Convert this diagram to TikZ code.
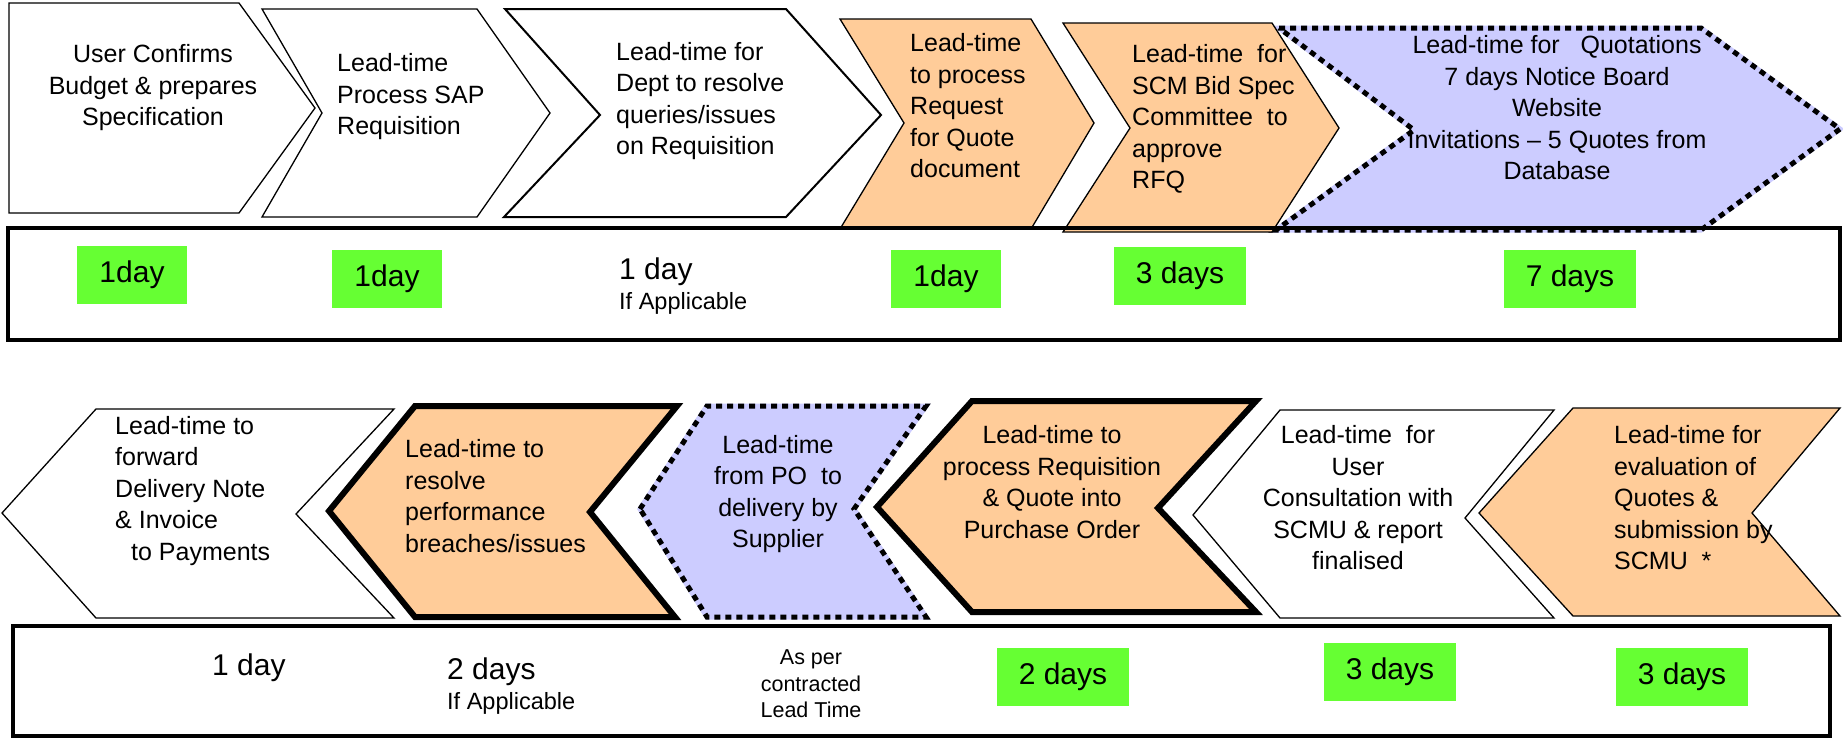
\documentclass[tikz,border=0pt]{standalone}
\usepackage{fontspec}
\setmainfont{Liberation Sans}
\usepackage{tikz}

\definecolor{peach}{HTML}{FFCC99}
\definecolor{lavender}{HTML}{CCCCFF}
\definecolor{daygreen}{HTML}{66FF33}

\begin{document}
\begin{tikzpicture}[
    x=1pt, y=-1pt,
    line join=miter,
    step text/.style={font=\fontsize{25}{31.5}\selectfont, inner sep=0pt},
    day text/.style={font=\fontsize{30}{36}\selectfont, inner sep=0pt},
    note text/.style={font=\fontsize{23.5}{28}\selectfont, inner sep=0pt},
    small text/.style={font=\fontsize{21.5}{26.5}\selectfont, inner sep=0pt, align=center},
    day box/.style={fill=daygreen, font=\fontsize{30}{36}\selectfont, inner xsep=22pt, minimum height=58pt},
    plain step/.style={draw=black, fill=white, line width=1.3pt},
    peach step/.style={draw=black, fill=peach, line width=1.3pt},
    bold step/.style={draw=black, fill=peach, line width=6pt},
    dotted step/.style={draw=black, fill=lavender, line width=5pt, dash pattern=on 6pt off 5pt,
        preaction={draw=lavender, line width=5pt, solid}},
    band/.style={draw=black, line width=3.5pt}
]

\useasboundingbox (0,0) rectangle (1843,737);

% Draw the top row of steps
\draw[plain step] (9,3) -- (239,3) -- (315,108) -- (239,213) -- (9,213) -- cycle;
\draw[plain step] (262,9) -- (477,9) -- (550,113) -- (477,217) -- (262,217) -- (322,113) -- cycle;
\draw[plain step, line width=2pt] (505,9) -- (786,9) -- (881,115) -- (786,217) -- (504,217) -- (600,115) -- cycle;
\draw[peach step] (840,19) -- (1031,19) -- (1094,123) -- (1031,229) -- (840,229) -- (904,123) -- cycle;
\draw[dotted step] (1279,28) -- (1701,28) -- (1840,129) -- (1701,230) -- (1276,230) -- (1414,130) -- cycle;
\draw[peach step] (1063,23) -- (1272,23) -- (1339,128) -- (1272,232) -- (1063,232) -- (1130,128) -- cycle;

% Texts of the top row
\node[step text, align=center] (s1) at (153,88) {User Confirms\\Budget \& prepares\\Specification};
\node[step text, align=left, anchor=west] (s2) at (337,97) {Lead-time\\Process SAP\\Requisition};
\node[step text, align=left, anchor=west] (s3) at (616,101) {Lead-time for\\Dept to resolve\\queries/issues\\on Requisition};
\node[step text, align=left, anchor=west] (s4) at (910,106) {Lead-time\\to process\\Request\\for Quote\\document};
\node[step text, align=left, anchor=west] (s5) at (1132,119) {Lead-time\ \ for\\SCM Bid Spec\\Committee\ \ to\\approve\\RFQ};
\node[step text, align=center] (s6) at (1557,108) {Lead-time for\ \ \ Quotations\\7 days Notice Board\\Website\\Invitations – 5 Quotes from\\Database};

% Draw the top band of lead times
\draw[band] (8,228) rectangle (1840,340);
\foreach \n/\x/\y/\t in {d1/132/275/1day, d2/387/279/1day, d4/946/279/1day, d5/1180/276/3 days, d6/1570/279/7 days} {
    \node[day box] (\n) at (\x,\y) {\t};
}
\node[day text, anchor=base west] (d3) at (619,279) {1 day};
\node[note text, anchor=base west] (d3note) at (619,309) {If Applicable};

% Draw the bottom row of steps
\draw[plain step] (2,513) -- (96,409) -- (394,409) -- (296,514) -- (394,618) -- (96,618) -- cycle;
\draw[bold step] (329,511) -- (415,406) -- (677,406) -- (590,512) -- (675,617) -- (415,617) -- cycle;
\draw[dotted step] (640,509) -- (707,406) -- (926,406) -- (854,509) -- (926,617) -- (707,617) -- cycle;
\draw[bold step] (877,507) -- (972,401) -- (1256,401) -- (1158,508) -- (1256,612) -- (972,612) -- cycle;
\draw[plain step] (1193,515) -- (1280,410) -- (1554,410) -- (1465,518) -- (1554,618) -- (1280,618) -- cycle;
\draw[peach step] (1479,513) -- (1573,408) -- (1840,408) -- (1752,513) -- (1840,616) -- (1573,616) -- cycle;

% Texts of the bottom row
\node[step text, align=left, anchor=west] (b1) at (115,491) {Lead-time to\\forward\\Delivery Note\\\& Invoice\\\hspace*{16pt}to Payments};
\node[step text, align=left, anchor=west] (b2) at (405,496) {Lead-time to\\resolve\\performance\\breaches/issues};
\node[step text, align=center] (b3) at (778,494) {Lead-time\\from PO\ \ to\\delivery by\\Supplier};
\node[step text, align=center] (b4) at (1052,482) {Lead-time to\\process Requisition\\\& Quote into\\Purchase Order};
\node[step text, align=center] (b5) at (1358,498) {Lead-time\ \ for\\User\\Consultation with\\SCMU \& report\\finalised};
\node[step text, align=left, anchor=west] (b6) at (1614,498) {Lead-time for\\evaluation of\\Quotes \&\\submission by\\SCMU\ \ *};

% Draw the bottom band of lead times
\draw[band] (13,626) rectangle (1830,736);
\foreach \n/\x/\y/\t in {e4/1063/677/2 days, e5/1390/672/3 days, e6/1682/677/3 days} {
    \node[day box] (\n) at (\x,\y) {\t};
}
\node[day text, anchor=base west] (e1) at (212,675) {1 day};
\node[day text, anchor=base west] (e2) at (447,679) {2 days};
\node[note text, anchor=base west] (e2note) at (447,709) {If Applicable};
\node[small text] (e3) at (811,684) {As per\\contracted\\Lead Time};

\end{tikzpicture}
\end{document}
